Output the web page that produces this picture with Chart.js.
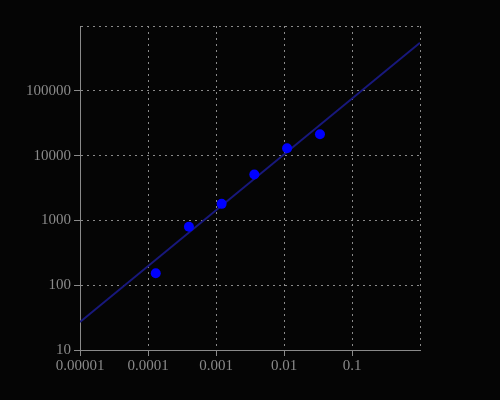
<!DOCTYPE html>
<html>
<head>
<meta charset="utf-8">
<script src="https://cdn.jsdelivr.net/npm/chart.js@4.4.1/dist/chart.umd.min.js"></script>
<style>
html,body{margin:0;padding:0;background:#050505;}
canvas{display:block;}
</style>
</head>
<body>
<canvas id="c" width="500" height="400"></canvas>
<script>
// Data
const pointX = [0.00013, 0.0004, 0.00121, 0.00366, 0.0111, 0.0338];
const pointY = [153, 800, 1800, 5100, 13000, 21300];
const fitX = [0.00001, 1];
const fitY = [27, 550000];
const xTickValues = [0.00001, 0.0001, 0.001, 0.01, 0.1, 1];
const xTickLabels = ['0.00001', '0.0001', '0.001', '0.01', '0.1', ''];
const yTickValues = [10, 100, 1000, 10000, 100000, 1000000];
const yTickLabels = ['10', '100', '1000', '10000', '100000', ''];

const GRAY = '#8a8a8a';
const FONT = {family: '"Liberation Serif", "DejaVu Serif", serif', size: 15};

const bg = {
  id: 'bg',
  beforeDraw(chart) {
    const ctx = chart.ctx;
    ctx.save();
    ctx.fillStyle = '#050505';
    ctx.fillRect(0, 0, chart.width, chart.height);
    ctx.restore();
  }
};

const tickCol = (ctx) => (ctx.index === 5 ? 'rgba(0,0,0,0)' : GRAY);

new Chart(document.getElementById('c'), {
  type: 'scatter',
  data: {
    datasets: [
      {
        data: fitX.map((x, i) => ({x, y: fitY[i]})),
        showLine: true,
        borderColor: '#18187c',
        borderWidth: 2,
        pointRadius: 0,
        pointHoverRadius: 0,
        order: 2
      },
      {
        data: pointX.map((x, i) => ({x, y: pointY[i]})),
        showLine: false,
        backgroundColor: '#0000ff',
        borderColor: '#0000ff',
        pointRadius: 5,
        borderWidth: 0,
        order: 1
      }
    ]
  },
  options: {
    responsive: false,
    animation: false,
    events: [],
    layout: {padding: {left: 0, right: 80, top: 26, bottom: 0}},
    plugins: {legend: {display: false}, tooltip: {enabled: false}},
    scales: {
      x: {
        type: 'logarithmic',
        min: 0.00001,
        max: 1,
        afterBuildTicks(s) { s.ticks = xTickValues.map(v => ({value: v})); },
        afterFit(s) { s.height = 50; },
        ticks: {
          color: GRAY, font: FONT, padding: 1, maxRotation: 0, autoSkip: false,
          callback: (v, i) => xTickLabels[i]
        },
        grid: {color: GRAY, lineWidth: 1, tickLength: 6, tickColor: tickCol, tickBorderDash: []},
        border: {display: true, color: GRAY, width: 1, dash: [2, 4]}
      },
      y: {
        type: 'logarithmic',
        min: 10,
        max: 1000000,
        afterBuildTicks(s) { s.ticks = yTickValues.map(v => ({value: v})); },
        afterFit(s) { s.width = 80; },
        ticks: {
          color: GRAY, font: FONT, padding: 3, autoSkip: false,
          callback: (v, i) => yTickLabels[i]
        },
        grid: {color: GRAY, lineWidth: 1, tickLength: 6, tickColor: tickCol, tickBorderDash: []},
        border: {display: true, color: GRAY, width: 1, dash: [2, 4]}
      }
    }
  },
  plugins: [bg]
});
</script>
</body>
</html>
